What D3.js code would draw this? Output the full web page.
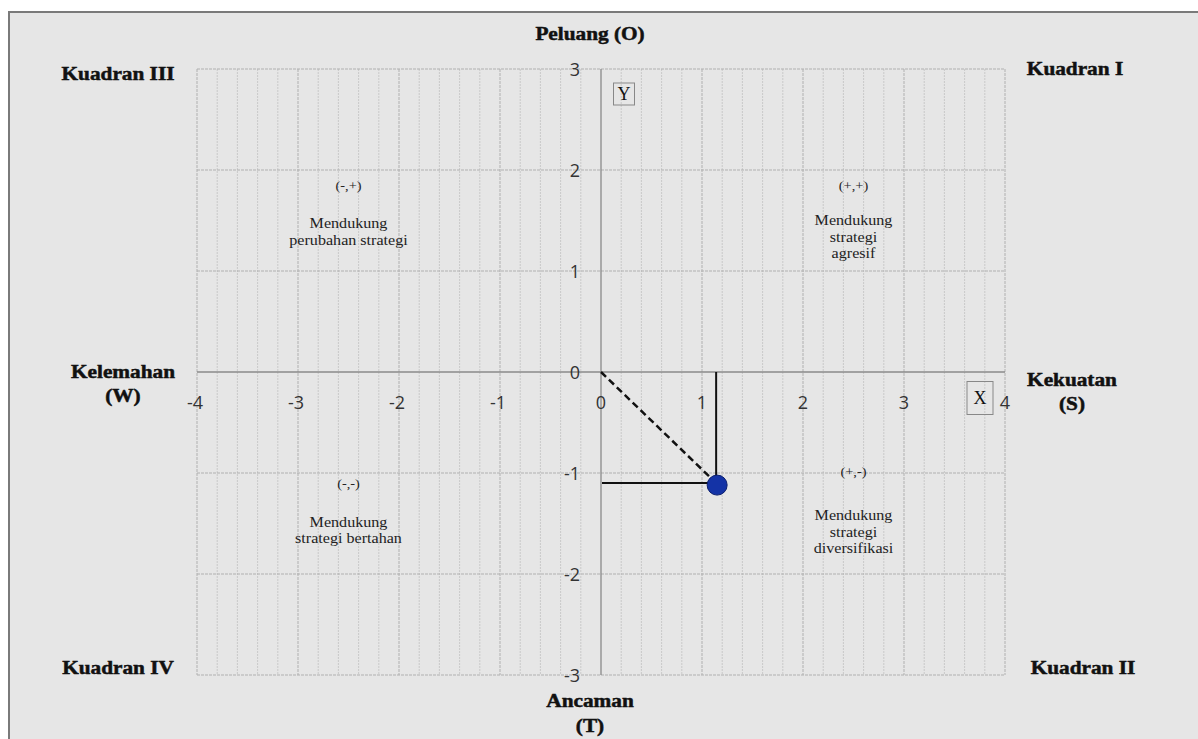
<!DOCTYPE html>
<html><head><meta charset="utf-8">
<script src="https://cdn.jsdelivr.net/npm/d3@7"></script>
<style>html,body{margin:0;padding:0;background:#fff;}svg{display:block;}</style>
</head><body><svg id="c" width="1198" height="739"></svg>
<script>
const xTicks = [-4,-3,-2,-1,0,1,2,3,4];
const yTicks = [-3,-2,-1,0,1,2,3];
const point = [{x:1.14, y:-1.1}];
const quadrantLabels = [
  {text:"Kuadran III", pos:"tl"},
  {text:"Kuadran I", pos:"tr"},
  {text:"Kuadran IV", pos:"bl"},
  {text:"Kuadran II", pos:"br"}
];
const axisTitles = {top:["Peluang (O)"], bottom:["Ancaman","(T)"], left:["Kelemahan","(W)"], right:["Kekuatan","(S)"]};
const notes = [
  {x:-2.5, headY:1.84, bodyY:1.465, head:"(-,+)", body:["Mendukung","perubahan strategi"]},
  {x:2.5, headY:1.84, bodyY:1.495, head:"(+,+)", body:["Mendukung","strategi","agresif"]},
  {x:-2.5, headY:-1.11, bodyY:-1.495, head:"(-,-)", body:["Mendukung","strategi bertahan"]},
  {x:2.5, headY:-0.99, bodyY:-1.426, head:"(+,-)", body:["Mendukung","strategi","diversifikasi"]}
];

const svg = d3.select("#c");
const x = d3.scaleLinear().domain([-4,4]).range([197,1005]);
const y = d3.scaleLinear().domain([-3,3]).range([675,69]);

svg.append("rect").attr("x",9).attr("y",12).attr("width",1200).attr("height",740)
  .attr("fill","#e6e6e6").attr("stroke","#7a7a7a").attr("stroke-width",2);

const g = svg.append("g");
const minor = d3.range(-4,4.0001,0.2).filter(v=>Math.abs(v-Math.round(v))>1e-6);
g.selectAll(".mv").data(minor).join("line")
  .attr("x1",d=>x(d)).attr("x2",d=>x(d)).attr("y1",y(3)).attr("y2",y(-3))
  .attr("stroke","#c9c9c9").attr("stroke-width",1).attr("stroke-dasharray","2,1");
g.selectAll(".Mv").data(xTicks.filter(d=>d!==0)).join("line")
  .attr("x1",d=>x(d)).attr("x2",d=>x(d)).attr("y1",y(3)).attr("y2",y(-3))
  .attr("stroke","#b0b0b0").attr("stroke-width",1).attr("stroke-dasharray","3,1");
g.selectAll(".Mh").data(yTicks.filter(d=>d!==0)).join("line")
  .attr("x1",x(-4)).attr("x2",x(4)).attr("y1",d=>y(d)).attr("y2",d=>y(d))
  .attr("stroke","#b0b0b0").attr("stroke-width",1).attr("stroke-dasharray","3,1");
g.append("line").attr("x1",x(0)).attr("x2",x(0)).attr("y1",y(3)).attr("y2",y(-3))
  .attr("stroke","#8a8a8a").attr("stroke-width",1.3);
g.append("line").attr("x1",x(-4)).attr("x2",x(4)).attr("y1",y(0)).attr("y2",y(0))
  .attr("stroke","#8a8a8a").attr("stroke-width",1.3);

const tickFont = "'Open Sans', 'Liberation Sans', sans-serif";
g.selectAll(".xt").data(xTicks).join("text")
  .attr("x",d=>x(d)+ (d<0?-2:0)).attr("y",y(0)+37)
  .attr("text-anchor","middle").attr("font-family",tickFont).attr("font-size",18).attr("fill","#333")
  .text(d=>d);
g.selectAll(".yt").data(yTicks).join("text")
  .attr("x",x(0)-21).attr("y",d=>y(d)+7)
  .attr("text-anchor","end").attr("font-family",tickFont).attr("font-size",18).attr("fill","#333")
  .text(d=>d);

const p = point[0];
g.append("line").attr("x1",x(0)).attr("y1",y(0)).attr("x2",x(p.x)).attr("y2",y(p.y))
  .attr("stroke","#111").attr("stroke-width",2.5).attr("stroke-dasharray","7,4");
g.append("line").attr("x1",x(p.x)).attr("y1",y(0)).attr("x2",x(p.x)).attr("y2",y(p.y))
  .attr("stroke","#111").attr("stroke-width",2);
g.append("line").attr("x1",x(0)+1).attr("y1",y(p.y)).attr("x2",x(p.x)).attr("y2",y(p.y))
  .attr("stroke","#111").attr("stroke-width",2);
g.selectAll(".pt").data(point).join("circle")
  .attr("cx",d=>x(d.x)+1).attr("cy",d=>y(d.y)+2).attr("r",10)
  .attr("fill","#1433a6").attr("stroke","#0b1f6e").attr("stroke-width",1);

const bold = "'Liberation Serif', 'DejaVu Serif', serif";
function btext(tx, ty, s){
  svg.append("text").attr("text-anchor","middle")
    .attr("font-family",bold).attr("font-weight","bold").attr("font-size",19).attr("fill","#111")
    .attr("stroke","#111").attr("stroke-width",0.5)
    .attr("transform",`translate(${tx},${ty}) scale(1.12,1)`)
    .text(s);
}
btext(590,40,axisTitles.top[0]);
btext(590,707,axisTitles.bottom[0]);
btext(590,732,axisTitles.bottom[1]);
btext(123,378,axisTitles.left[0]);
btext(123,402,axisTitles.left[1]);
btext(1072,386,axisTitles.right[0]);
btext(1072,410,axisTitles.right[1]);
const qpos = {tl:[118,80],tr:[1075,75],bl:[118,674],br:[1083,674]};
quadrantLabels.forEach(q=>btext(qpos[q.pos][0],qpos[q.pos][1],q.text));

function boxed(cx, cy, w, h, s){
  svg.append("rect").attr("x",cx-w/2).attr("y",cy-h/2).attr("width",w).attr("height",h)
    .attr("fill","none").attr("stroke","#888").attr("stroke-width",1);
  svg.append("text").attr("x",cx).attr("y",cy+6).attr("text-anchor","middle")
    .attr("font-family","'Liberation Serif', serif").attr("font-size",18).attr("fill","#111").text(s);
}
boxed(624,94,21,22,"Y");
boxed(980,398,26,33,"X");

const noteFont = "'Liberation Serif', 'DejaVu Serif', serif";
function ntext(tx, ty, s, fs){
  svg.append("text").attr("text-anchor","middle")
    .attr("transform",`translate(${tx},${ty}) scale(1.15,1)`)
    .attr("font-family",noteFont).attr("font-size",fs).attr("fill","#222").text(s);
}
notes.forEach(n=>{
  ntext(x(n.x), y(n.headY)+4, n.head, 12.5);
  n.body.forEach((l,i)=>ntext(x(n.x), y(n.bodyY)+4+i*16.5, l, 14));
});
</script></body></html>
